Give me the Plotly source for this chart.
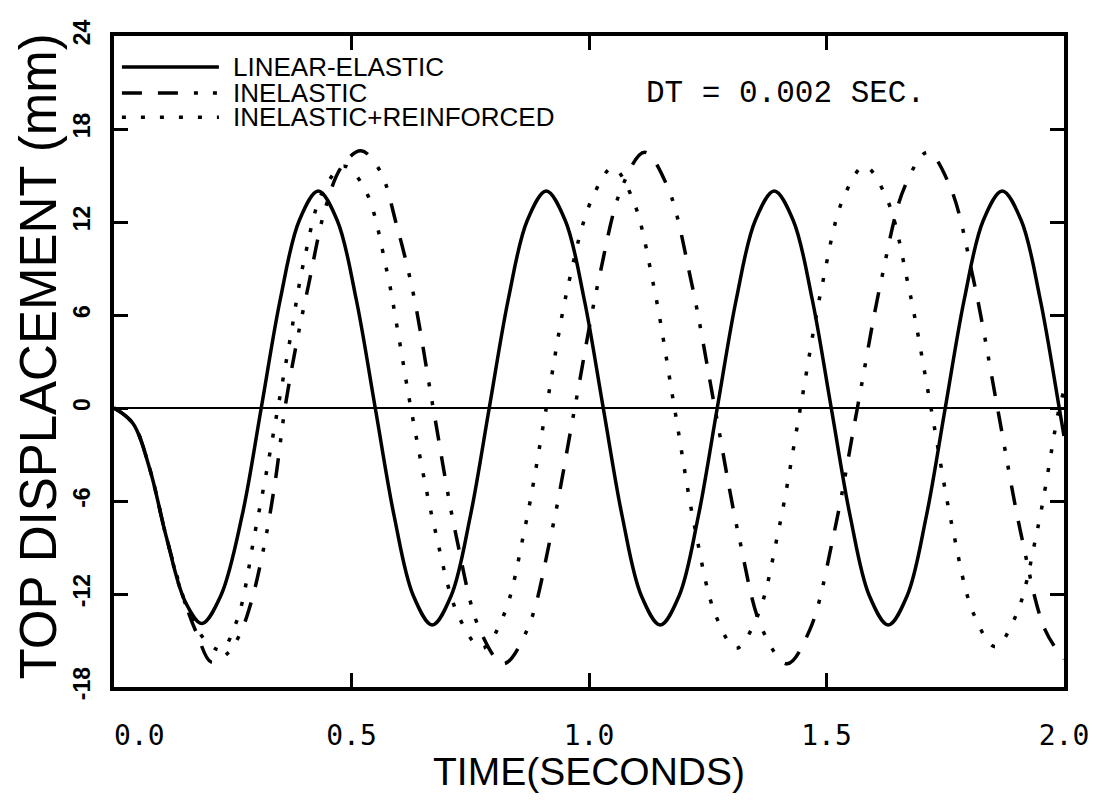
import plotly.graph_objects as go

# ---------------- data ----------------
time_linear = [0, 0.04, 0.075, 0.11, 0.15, 0.185, 0.225, 0.27, 0.31, 0.35, 0.39, 0.43, 0.47, 0.51,
               0.55, 0.59, 0.63, 0.67, 0.71, 0.75, 0.79, 0.83, 0.87, 0.91, 0.95, 0.99, 1.03, 1.07,
               1.11, 1.15, 1.19, 1.23, 1.27, 1.31, 1.35, 1.39, 1.43, 1.47, 1.51, 1.55, 1.59, 1.63,
               1.67, 1.71, 1.75, 1.79, 1.83, 1.87, 1.91, 1.95, 1.99, 2.0]
disp_linear = [0, -1.0, -3.9, -8.3, -12.5, -13.9, -12.1, -6.9, 0, 7.0, 12.1, 14.0, 12.1, 7.0,
               0, -7.0, -12.1, -14.0, -12.1, -7.0, 0, 7.0, 12.1, 14.0, 12.1, 7.0, 0, -7.0,
               -12.1, -14.0, -12.1, -7.0, 0, 7.0, 12.1, 14.0, 12.1, 7.0, 0, -7.0, -12.1, -14.0,
               -12.1, -7.0, 0, 7.0, 12.1, 14.0, 12.1, 7.0, 0, -1.8]

time_inelastic = [0, 0.04, 0.075, 0.11, 0.15, 0.175, 0.205, 0.24, 0.265, 0.29, 0.318, 0.34, 0.36,
                  0.385, 0.41, 0.445, 0.48, 0.52, 0.56, 0.595, 0.63, 0.672, 0.72, 0.77, 0.82, 0.87,
                  0.92, 0.97, 1.02, 1.07, 1.117, 1.165, 1.215, 1.265, 1.315, 1.365, 1.417, 1.465,
                  1.515, 1.565, 1.615, 1.665, 1.713, 1.76, 1.81, 1.86, 1.91, 1.96, 2.0]
disp_inelastic = [0, -1.0, -3.9, -8.3, -12.6, -14.6, -16.4, -15.8, -14.6, -12.4, -8.6, -4.6, 0,
                  4.3, 8.0, 12.9, 15.6, 16.6, 15.3, 11.8, 7.4, 0, -8.2, -14.3, -16.5, -14.3,
                  -8.2, 0, 8.2, 14.3, 16.5, 14.3, 8.2, 0, -8.2, -14.3, -16.5, -14.3,
                  -8.2, 0, 8.2, 14.3, 16.5, 14.3, 8.2, 0, -8.2, -14.3, -16.2]

time_reinforced = [0, 0.04, 0.075, 0.11, 0.15, 0.19, 0.225, 0.26, 0.297, 0.32, 0.345, 0.37, 0.40,
                   0.44, 0.485, 0.53, 0.574, 0.60, 0.625, 0.675, 0.725, 0.775, 0.82, 0.865, 0.91,
                   0.955, 1.005, 1.05, 1.093, 1.137, 1.18, 1.223, 1.267, 1.31, 1.355, 1.40, 1.445,
                   1.49, 1.535, 1.58, 1.627, 1.673, 1.72, 1.765, 1.81, 1.855, 1.9, 1.945, 1.99, 2.0]
disp_reinforced = [0, -1.0, -3.9, -8.3, -12.6, -14.9, -15.6, -13.6, -8.0, -4.3, 0, 4.3, 9.5,
                   14.0, 15.6, 14.0, 8.9, 4.5, 0, -7.75, -13.4, -15.5, -13.4, -7.75, 0,
                   7.75, 13.4, 15.5, 13.4, 7.75, 0, -7.75, -13.4, -15.5, -13.4, -7.75, 0,
                   7.8, 13.5, 15.6, 13.5, 7.8, 0, -7.7, -13.3, -15.4, -13.3, -7.7, 0, 1.1]

series_names = ["LINEAR-ELASTIC", "INELASTIC", "INELASTIC+REINFORCED"]

x_tick_vals = [0.0, 0.5, 1.0, 1.5, 2.0]
x_tick_text = ["\u00a0\u00a0\u00a00.0", "0.5", "1.0", "1.5", "2.0"]
y_tick_vals = [-18, -12, -6, 0, 6, 12, 18, 24]
y_tick_text = ["-18", "-12", "-6", "0", "6", "12", "18", "24"]

x_title = "TIME(SECONDS)"
y_title = "TOP DISPLACEMENT (mm)"
note_text = "DT = 0.002 SEC."

# ---------------- styling ----------------
# the page body has an 8px margin, so the figure starts at (8, 8) in the window
OFF = 8
W, H = 1109 - 2 * OFF, 801 - 2 * OFF
PLOT_L, PLOT_R, PLOT_T, PLOT_B = 114, 1074, 22, 696     # plot box in window pixels
L = PLOT_L - OFF
T = PLOT_T - OFF
R = OFF + W - PLOT_R
B = OFF + H - PLOT_B
PW, PH = PLOT_R - PLOT_L, PLOT_B - PLOT_T

line_dashes = ["solid", "20px,16px,20px,16px,4px,15px,4px,16px", "4px,15px"]


def px_to_paper(px, py):
    return (px - PLOT_L) / PW, (PLOT_B - py) / PH


fig = go.Figure()
series = [(time_linear, disp_linear), (time_inelastic, disp_inelastic),
          (time_reinforced, disp_reinforced)]
for (t, v), name, dash in zip(series, series_names, line_dashes):
    fig.add_trace(go.Scatter(
        x=t, y=v, mode="lines", name=name, showlegend=False,
        line=dict(color="black", width=3.5, dash=dash, shape="spline", smoothing=1.0),
    ))

# hand-drawn legend (long line samples as in the original)
legend_rows = [54, 81, 106]
for name, dash, ry in zip(series_names, line_dashes, legend_rows):
    x0, y0 = px_to_paper(122, ry)
    x1, _ = px_to_paper(220, ry)
    fig.add_shape(type="line", xref="paper", yref="paper", x0=x0, x1=x1, y0=y0, y1=y0,
                  line=dict(color="black", width=3.5, dash=dash))
    tx, _ = px_to_paper(232, ry)
    fig.add_annotation(xref="paper", yref="paper", x=tx, y=y0, text=name, showarrow=False,
                       xanchor="left", yanchor="middle",
                       font=dict(family="Liberation Sans", size=26, color="black"))

dx, dy = px_to_paper(650, 82)
fig.add_annotation(xref="paper", yref="paper", x=dx, y=dy, text=note_text,
                   showarrow=False, xanchor="left", yanchor="middle",
                   font=dict(family="Liberation Mono", size=31, color="black"))

# y-axis title placed as rotated text beside the axis
yx, yy = px_to_paper(38, 354)
fig.add_annotation(xref="paper", yref="paper", x=yx, y=yy, text=y_title, showarrow=False,
                   textangle=-90, xanchor="center", yanchor="middle",
                   font=dict(family="Liberation Sans", size=51, color="black"))

fig.update_layout(
    width=W, height=H,
    margin=dict(l=L, r=R, t=T, b=B),
    paper_bgcolor="white", plot_bgcolor="white",
    showlegend=False,
    xaxis=dict(
        range=[0, 2.0], tickmode="array", tickvals=x_tick_vals, ticktext=x_tick_text,
        ticks="inside", ticklen=14, tickwidth=3, tickcolor="black",
        showline=True, linewidth=3.5, linecolor="black", mirror="ticks",
        showgrid=False, zeroline=False,
        tickfont=dict(family="DejaVu Sans Mono", size=28, color="black"),
        ticklabelstandoff=21, ticklabeloverflow="allow",
        title=dict(text=x_title, standoff=1,
                   font=dict(family="Liberation Sans", size=39, color="black")),
    ),
    yaxis=dict(
        range=[-18, 24], tickmode="array", tickvals=y_tick_vals, ticktext=y_tick_text,
        ticks="inside", ticklen=14, tickwidth=3, tickcolor="black",
        showline=True, linewidth=3.5, linecolor="black", mirror="ticks",
        showgrid=False, zeroline=True, zerolinecolor="black", zerolinewidth=2,
        tickangle=-90,
        tickfont=dict(family="Liberation Sans", size=23, color="black", weight="bold"),
        ticklabelstandoff=11, ticklabeloverflow="allow",
    ),
)

fig.write_html("out.html")
